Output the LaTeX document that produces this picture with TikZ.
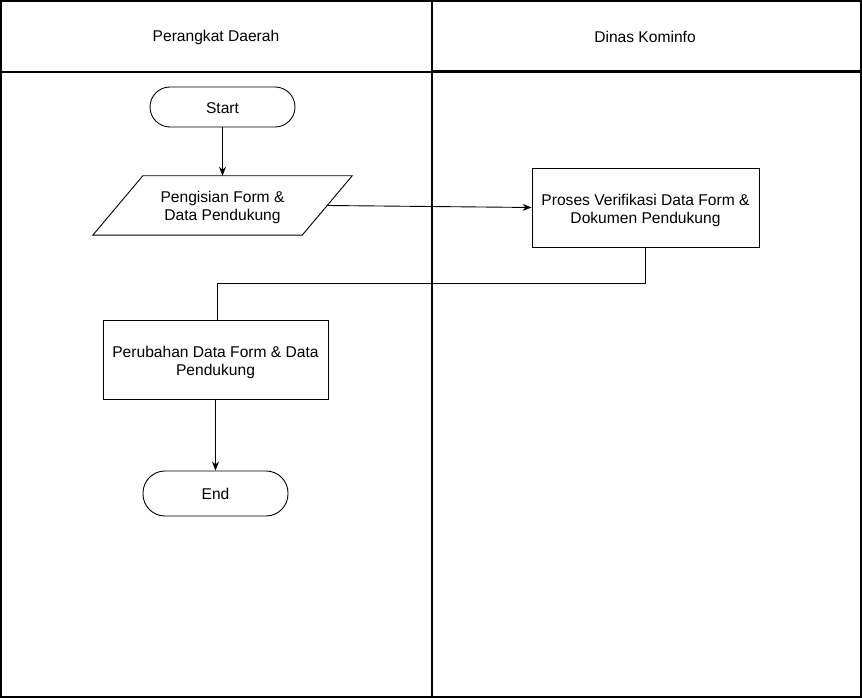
\documentclass[tikz,border=0pt]{standalone}
\usepackage{fontspec}
\setmainfont{Liberation Sans}
\usetikzlibrary{arrows.meta}
\newcommand{\toppad}{\rule{0pt}{17.5pt}}
\begin{document}
\begin{tikzpicture}[x=1pt,y=1pt,
  lane/.style={line width=1.2pt},
  lbl/.style={font=\fontsize{15.6}{18}\selectfont, align=center},
  term/.style={draw, line width=0.9pt, rounded corners=20pt, lbl, inner sep=0pt},
  procbox/.style={draw, line width=0.9pt, lbl, inner sep=0pt},
  flow/.style={line width=0.9pt, -{Stealth[length=9pt,width=7pt]}},
  link/.style={line width=0.9pt}]
\useasboundingbox (0,0) rectangle (862,698);
\fill[white] (0,0) rectangle (862,698);
% pool
\draw[lane] (1,1) rectangle (861,697);
\draw[lane] (432,1) -- (432,697);
\draw[lane] (1,626) -- (432,626);
\draw[line width=2.2pt] (432,626.5) -- (861,626.5);
\node[lbl] (h1) at (216,661) {Perangkat Daerah};
\node[lbl] (h2) at (645,661) {Dinas Kominfo};
% nodes
\node[term, minimum width=145pt, minimum height=40pt] (start) at (222.5,591) {\rule{0pt}{13pt}Start};
\node[lbl, minimum width=209pt, minimum height=59pt, inner sep=0pt] (form) at (222.5,492.5) {\rule{0pt}{15pt}Pengisian Form \&\\Data Pendukung};
\draw[line width=0.9pt] ([xshift=25pt]form.north west) -- ([xshift=25pt]form.north east) -- ([xshift=-25pt]form.south east) -- ([xshift=-25pt]form.south west) -- cycle;
\node[procbox, minimum width=227pt, minimum height=79pt] (ver) at (645.5,490.5) {\toppad Proses Verifikasi Data Form \&\\Dokumen Pendukung};
\node[procbox, minimum width=225pt, minimum height=79pt] (chg) at (215.5,338.5) {\toppad Perubahan Data Form \& Data\\Pendukung};
\node[term, minimum width=145pt, minimum height=45pt, rounded corners=22pt] (end) at (215.5,204.5) {End};
% connectors
\coordinate (bend) at (0,415);
\draw[flow] (start) -- (form.north -| start);
\draw[flow] (form.east) -- (ver.west);
\draw[link] (ver.south) |- ([xshift=1.5pt]chg.north |- bend) -- ([xshift=1.5pt]chg.north);
\draw[flow] (chg.south) -- (end.north);
\end{tikzpicture}
\end{document}
